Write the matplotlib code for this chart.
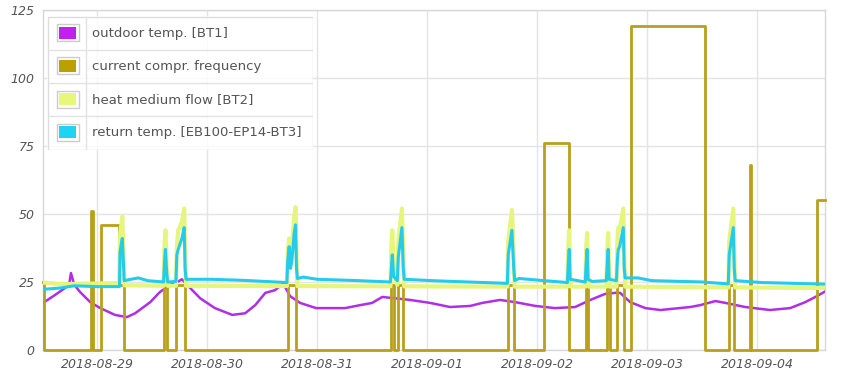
import numpy as np
import pandas as pd
import matplotlib
matplotlib.use("Agg")
import matplotlib.pyplot as plt
import matplotlib.dates as mdates
from matplotlib.patches import Rectangle

# all times are hours after 2018-08-29 00:00
t0 = pd.Timestamp("2018-08-29 00:00")

# outdoor temp. [BT1]
bt1_h = [-11.8, -9.2, -7.0, -6.1, -5.7, -5.0, -3.7, -1.5, 0.7, 3.9, 6.5, 8.3, 11.6, 13.7,
         15.9, 17.5, 18.5, 20.3, 22.5, 25.7, 29.5, 32.3, 34.5, 36.7, 38.8, 40.6, 42.1,
         44.3, 47.8, 54.1, 57.4, 60.0, 62.2, 65.0, 68.3, 72.7, 77.0, 81.4, 84.0, 87.9,
         91.2, 95.6, 99.9, 104.3, 107.6, 110.8, 113.0, 114.1, 116.3, 119.6, 122.9,
         129.4, 131.6, 134.9, 137.1, 141.4, 146.8, 151.2, 154.5, 156.7, 158.8]
bt1_v = [17.3, 20.2, 22.8, 24.0, 28.3, 24.0, 21.3, 17.6, 15.4, 12.9, 12.1, 13.5, 17.6, 21.3,
         23.9, 25.0, 26.0, 22.8, 19.0, 15.4, 12.9, 13.5, 16.5, 21.0, 22.0, 24.4, 19.8,
         17.3, 15.4, 15.4, 16.5, 17.3, 19.5, 19.0, 18.4, 17.3, 15.8, 16.2, 17.3, 18.4,
         17.6, 16.2, 15.4, 15.8, 18.4, 20.6, 21.0, 21.0, 17.6, 15.4, 14.7,
         15.8, 16.5, 18.0, 17.3, 15.8, 14.7, 15.4, 17.6, 19.5, 21.5]

# current compr. frequency (step values)
freq_h = [-11.8, -11.6, -1.3, -0.9, 0.9, 4.8, 5.8, 14.6, 15.3, 17.3, 19.2, 41.6, 43.5,
          64.1, 64.8, 65.6, 66.8, 89.6, 91.0, 97.5, 103.0, 106.6, 107.2, 111.2, 111.8,
          113.5, 115.0, 116.5, 132.6, 137.9, 139.0, 142.5, 142.7, 157.1, 158.8]
freq_v = [25, 0, 51, 0, 46, 24, 0, 24, 0, 24, 0, 24, 0,
          24, 0, 24, 0, 24, 0, 76, 0, 24, 0, 24, 0,
          24, 0, 119, 0, 24, 0, 68, 0, 55, 55]

# heat medium flow [BT2]
bt2_h = [-11.8, -8, -5, 4.8,
         5.0, 5.5, 5.8, 6.0, 14.5,
         14.7, 14.9, 15.2, 15.4, 17.2,
         17.4, 17.7, 18.5, 19.0, 19.2, 19.4, 41.4,
         41.6, 41.9, 42.2, 42.5, 43.0, 43.3, 43.5, 43.7, 64.0,
         64.2, 64.4, 64.7, 65.5, 65.7, 66.5, 66.8, 67.0, 89.5,
         89.7, 90.5, 90.9, 91.1, 102.6,
         102.8, 103.0, 103.2, 103.4, 106.5,
         106.7, 106.9, 107.1, 107.3, 111.1,
         111.3, 111.5, 111.7, 111.9, 113.3,
         113.5, 113.7, 114.0, 114.8, 115.0, 115.2, 137.7,
         137.9, 138.8, 139.0, 139.2, 158.8]
bt2_v = [24.8, 24.2, 24.3, 24.6,
         42, 49, 32, 23.8, 23.6,
         38, 44, 30, 23.6, 23.6,
         38, 44, 47, 52, 35, 23.6, 23.5,
         36, 41, 33, 38, 49, 52.5, 35, 23.5, 23.4,
         38, 44, 30, 24, 40, 52, 35, 23.4, 23.3,
         40, 51.5, 35, 23.3, 23.3,
         38, 44, 28, 23.3, 23.3,
         37, 43, 28, 23.3, 23.3,
         37, 43, 28, 23.3, 23.3,
         40, 45, 44, 52, 35, 23.3, 23.0,
         40, 52, 35, 23.0, 22.8]

# return temp. [EB100-EP14-BT3]
bt3_h = [-11.8, -8, -5, 0, 4.9,
         5.0, 5.5, 5.8, 5.9, 8.0, 9.0, 11.0, 14.5,
         14.7, 14.9, 15.2, 15.4, 17.2,
         17.4, 17.7, 18.5, 19.0, 19.2, 19.4, 25, 32, 41.4,
         41.6, 41.9, 42.2, 42.5, 43.0, 43.3, 43.5, 43.7, 45, 48, 57, 64,
         64.2, 64.4, 64.7, 65.5, 65.7, 66.5, 66.8, 67.0, 73, 81, 89.5,
         89.7, 90.5, 90.9, 91.1, 92, 97.5, 102.6,
         102.8, 103.0, 103.2, 106.5,
         106.7, 106.9, 107.1, 108, 111.1,
         111.3, 111.5, 111.7, 113.3,
         113.5, 113.7, 114.0, 114.8, 115.0, 115.2, 118, 121, 132, 137.7,
         137.9, 138.8, 139.0, 139.2, 145, 158.8]
bt3_v = [22.3, 22.8, 23.6, 23.3, 23.3,
         36, 41, 30, 25.5, 26.2, 26.5, 25.5, 25,
         32, 37, 28, 25, 25.2,
         35, 37, 41, 45, 30, 26, 26, 25.6, 24.8,
         33, 38, 30, 33, 43, 46, 30, 26.3, 26.8, 26, 25.5, 25,
         30, 35, 27, 25.5, 34, 45, 30, 26, 25.5, 25, 24.5,
         35, 44, 30, 25.5, 26.3, 25.5, 24.8,
         32, 37, 26, 25,
         32, 37, 26, 25.2, 25.5,
         32, 37, 26, 25.5,
         33, 37, 38, 45, 30, 26.5, 26.5, 25.5, 25, 24.3,
         35, 45, 30, 25.5, 24.8, 24.2]

labels = ["outdoor temp. [BT1]", "current compr. frequency",
          "heat medium flow [BT2]", "return temp. [EB100-EP14-BT3]"]
colors = ["#b02ee6", "#b9a01c", "#e6f57c", "#25cbea"]
swatch_colors = ["#c020f0", "#bba000", "#e8f77a", "#1fd4f2"]


def to_time(hours):
    return t0 + pd.to_timedelta(np.array(hours), unit="h")


W, H = 850, 375
fig = plt.figure(figsize=(W / 100, H / 100), dpi=100, facecolor="w")
ax = fig.add_axes([43 / W, 1 - 350 / H, 782 / W, 340 / H])

ax.plot(to_time(bt1_h), bt1_v, color=colors[0], lw=1.8, zorder=3)
ax.plot(to_time(freq_h), freq_v, color=colors[1], lw=2.0, drawstyle="steps-post",
        zorder=4, clip_on=False)
ax.plot(to_time(bt2_h), bt2_v, color=colors[2], lw=3.0, zorder=5, solid_joinstyle="round")
ax.plot(to_time(bt3_h), bt3_v, color=colors[3], lw=2.2, zorder=6, solid_joinstyle="round")

ax.set_xlim(to_time([-11.8])[0], to_time([158.8])[0])
ax.set_ylim(0, 125)
ax.set_yticks([0, 25, 50, 75, 100, 125])
ax.xaxis.set_major_locator(mdates.DayLocator())
ax.xaxis.set_major_formatter(mdates.DateFormatter("%Y-%m-%d"))

ax.grid(True, color="#e4e4e4", lw=1.0)
ax.set_axisbelow(True)
for s in ax.spines.values():
    s.set_color("#d8d8d8")
    s.set_linewidth(1.0)
ax.tick_params(length=0, pad=6, labelsize=9, labelcolor="#545454")
for lab in ax.get_xticklabels() + ax.get_yticklabels():
    lab.set_fontstyle("italic")

# legend drawn as a small table like the original
lax = fig.add_axes([47 / W, 1 - 150 / H, 266 / W, 134 / H])
lax.set_xlim(0, 266)
lax.set_ylim(134, 0)
lax.axis("off")
lax.add_patch(Rectangle((0, 0), 266, 134, facecolor="white", alpha=0.85,
                        edgecolor="none", zorder=1))
lax.add_patch(Rectangle((0.5, 0.5), 265, 133, facecolor="none",
                        edgecolor="#dddddd", lw=1.0, zorder=2))
lax.plot([38.5, 38.5], [0.5, 133.5], color="#e3e3e3", lw=1.0, zorder=2)
row_h = 133 / 4
for i, (lab, c) in enumerate(zip(labels, swatch_colors)):
    yc = row_h * i + row_h / 2 + 0.5
    if i > 0:
        lax.plot([0.5, 265.5], [row_h * i + 0.5] * 2, color="#e3e3e3", lw=1.0, zorder=2)
    lax.add_patch(Rectangle((9.5, yc - 9), 22, 17, facecolor="white",
                            edgecolor="#cccccc", lw=1.0, zorder=3))
    lax.add_patch(Rectangle((12, yc - 6.5), 17, 12, facecolor=c,
                            edgecolor="none", zorder=4))
    lax.text(45, yc, lab, fontsize=9.5, color="#545454", va="center", ha="left", zorder=5)

fig.savefig("out.png", dpi=100, facecolor="w")
